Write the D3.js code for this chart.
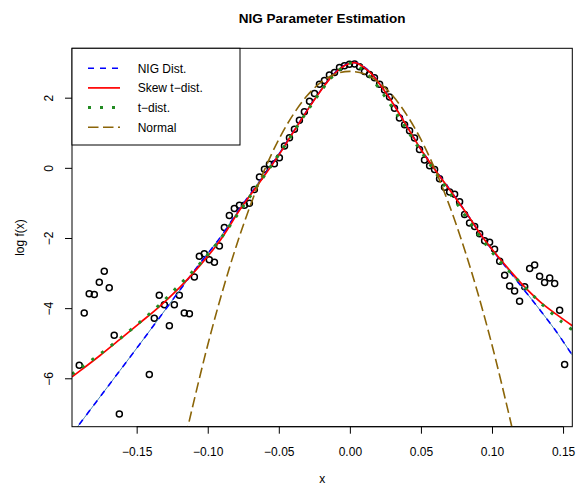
<!DOCTYPE html>
<html><head><meta charset="utf-8">
<script src="https://cdn.jsdelivr.net/npm/d3@7"></script>
<style>
body{margin:0;background:#fff}
svg{display:block}
text{font-family:"Liberation Sans",Arial,Helvetica,sans-serif;fill:#000}
</style>
</head><body>
<svg id="chart" width="581" height="486"></svg>
<script>
// ---------- data ----------
const xTicks = [-0.15, -0.10, -0.05, 0.00, 0.05, 0.10, 0.15];
const yTicks = [-6, -4, -2, 0, 2];

const titleText = "NIG Parameter Estimation";
const xLabel = "x";
const yLabel = "log f(x)";
const legendLabels = ["NIG Dist.", "Skew t\u2212dist.", "t\u2212dist.", "Normal"];

// observed log-density points (histogram bins)
const obsX = [-0.1904,-0.1869,-0.1834,-0.1798,-0.1763,-0.1728,-0.1693,-0.1658,-0.1622,
  -0.1411,-0.1376,-0.1341,-0.1305,-0.1270,-0.1235,-0.1200,-0.1165,-0.1129,-0.1094,-0.1059,-0.1024,-0.0989,-0.0953,-0.0918,-0.0883,-0.0848,-0.0813,-0.0777,-0.0742,-0.0707,-0.0672,-0.0636,-0.0601,-0.0566,-0.0531,-0.0496,-0.0460,-0.0425,-0.0390,-0.0355,-0.0320,-0.0284,-0.0249,-0.0214,-0.0179,-0.0144,-0.0108,-0.0073,-0.0038,-0.0003,
  0.0033,0.0068,0.0103,0.0138,0.0173,0.0209,0.0244,0.0279,0.0314,0.0349,0.0385,0.0420,0.0455,0.0490,0.0525,0.0561,0.0596,0.0631,0.0666,0.0702,0.0737,0.0772,0.0807,0.0842,0.0878,0.0913,0.0948,0.0983,0.1018,0.1054,0.1089,0.1124,0.1159,0.1194,0.1230,0.1265,0.1300,0.1335,0.1370,0.1406,0.1441,0.1476,0.1511];
const obsY = [-5.63,-4.14,-3.59,-3.61,-3.26,-2.95,-3.42,-4.77,-7.02,
  -5.89,-4.29,-3.63,-3.90,-4.50,-3.90,-3.63,-4.14,-4.16,-3.11,-2.52,-2.45,-2.62,-2.69,-2.23,-1.70,-1.36,-1.16,-1.07,-1.07,-1.01,-0.62,-0.26,-0.04,0.10,0.12,0.29,0.62,0.86,1.10,1.36,1.60,1.90,2.12,2.38,2.49,2.65,2.72,2.86,2.91,2.95,
  2.96,2.88,2.75,2.66,2.57,2.38,2.22,2.02,1.70,1.42,1.23,1.06,0.85,0.52,0.22,0.06,-0.05,-0.31,-0.55,-0.69,-0.75,-0.97,-1.33,-1.57,-1.67,-1.88,-2.08,-2.12,-2.32,-2.66,-3.06,-3.37,-3.51,-3.80,-3.39,-2.87,-2.77,-3.09,-3.27,-3.14,-3.30,-4.06,-5.61];

// fitted curves
const fitX = [-0.1955,-0.1899,-0.1758,-0.1618,-0.1477,-0.1336,-0.1195,-0.1054,-0.0913,-0.0773,-0.0632,-0.0491,-0.0420,-0.0350,-0.0280,-0.0210,-0.0139,-0.0069,0.0001,0.0036,0.0072,0.0142,0.0213,0.0283,0.0354,0.0424,0.0494,0.0586,0.0705,0.0825,0.0938,0.1057,0.1142,0.1226,0.1339,0.1451,0.1565];
const nigY = [-7.59,-7.29,-6.53,-5.78,-5.02,-4.25,-3.48,-2.72,-1.99,-1.15,-0.37,0.44,0.89,1.33,1.77,2.18,2.56,2.84,2.99,3.00,2.95,2.73,2.38,1.97,1.51,1.04,0.57,0.03,-0.63,-1.32,-2.00,-2.62,-3.05,-3.48,-4.06,-4.66,-5.34];
const skewtY = [-5.96,-5.79,-5.35,-4.89,-4.42,-3.94,-3.40,-2.78,-2.07,-1.19,-0.40,0.42,0.88,1.32,1.76,2.17,2.55,2.83,2.98,3.00,2.94,2.72,2.37,1.96,1.50,1.03,0.56,0.02,-0.64,-1.32,-2.00,-2.60,-3.00,-3.38,-3.82,-4.17,-4.50];

const tX = [-0.1955,-0.1899,-0.1758,-0.1618,-0.1477,-0.1336,-0.1195,-0.1054,-0.0913,-0.0773,-0.0632,-0.0491,-0.0420,-0.0350,-0.0280,-0.0210,-0.0139,-0.0069,0.0008,0.0085,0.0155,0.0226,0.0296,0.0366,0.0436,0.0507,0.0648,0.0789,0.0929,0.1070,0.1211,0.1352,0.1493,0.1565];
const tY = [-5.88,-5.72,-5.31,-4.87,-4.40,-3.89,-3.32,-2.73,-2.04,-1.23,-0.40,0.43,0.87,1.31,1.74,2.15,2.53,2.81,2.99,2.81,2.53,2.15,1.74,1.31,0.87,0.43,-0.40,-1.23,-2.04,-2.73,-3.32,-3.89,-4.40,-4.62];

const normX = [-0.12,-0.115,-0.11,-0.10,-0.09,-0.08,-0.07,-0.06,-0.05,-0.04,-0.03,-0.02,-0.01,0.00,0.01,0.02,0.03,0.04,0.05,0.06,0.07,0.08,0.09,0.10,0.11,0.115,0.12];
const normY = [-8.49,-7.57,-6.70,-5.05,-3.57,-2.24,-1.07,-0.05,0.81,1.51,2.06,2.45,2.68,2.75,2.68,2.45,2.06,1.51,0.81,-0.05,-1.07,-2.24,-3.57,-5.05,-6.70,-7.57,-8.49];

// ---------- drawing ----------
const svg = d3.select("#chart");
const P = {l:72, r:572.3, t:48.3, b:426.7};
const x = d3.scaleLinear().domain([-0.1955, 0.1565]).range([P.l, P.r]);
const y = d3.scaleLinear().domain([-7.38, 3.408]).range([P.b, P.t]);

svg.append("rect").attr("width",581).attr("height",486).attr("fill","#fff");

svg.append("clipPath").attr("id","clip")
  .append("rect").attr("x",P.l).attr("y",P.t).attr("width",P.r-P.l).attr("height",P.b-P.t);

const fmt = v => d3.format(".2f")(v).replace("-", "\u2212");

// x axis
const gx = svg.append("g").attr("transform",`translate(0,${P.b})`)
  .call(d3.axisBottom(x).tickValues(xTicks).tickSize(7).tickSizeOuter(0).tickFormat(fmt));
gx.select(".domain").remove();
gx.selectAll(".tick line").attr("stroke","#000").attr("stroke-width",1);
gx.selectAll(".tick text").attr("y",29.3).attr("dy",0).attr("font-size",12)
  .attr("font-family","Liberation Sans, Arial, sans-serif").attr("fill","#000");
gx.append("line").attr("x1",x(xTicks[0])).attr("x2",x(xTicks[xTicks.length-1]))
  .attr("y1",0).attr("y2",0).attr("stroke","#000");

// y axis
const gy = svg.append("g").attr("transform",`translate(${P.l},0)`)
  .call(d3.axisLeft(y).tickValues(yTicks).tickSize(7).tickSizeOuter(0)
    .tickFormat(v => String(v).replace("-", "\u2212")));
gy.select(".domain").remove();
gy.selectAll(".tick line").attr("stroke","#000").attr("stroke-width",1);
gy.selectAll(".tick text").attr("x",0).attr("dy",0).attr("text-anchor","middle")
  .attr("transform","translate(-18.7,0) rotate(-90)")
  .attr("font-size",12).attr("font-family","Liberation Sans, Arial, sans-serif").attr("fill","#000");

// curves
const line = d3.line().x(d => x(d[0])).y(d => y(d[1])).curve(d3.curveCatmullRom.alpha(0.5));
const zip = (a, b) => a.map((v, i) => [v, b[i]]);
const g = svg.append("g").attr("clip-path","url(#clip)");

// points
g.selectAll("circle").data(zip(obsX, obsY)).enter().append("circle")
  .attr("cx", d => x(d[0])).attr("cy", d => y(d[1])).attr("r", 3)
  .attr("fill","none").attr("stroke","#000").attr("stroke-width",1.5);

g.append("path").attr("d", line(zip(fitX, nigY))).attr("fill","none")
  .attr("stroke","steelblue").attr("stroke-width",1);
g.append("path").attr("d", line(zip(fitX, nigY))).attr("fill","none")
  .attr("stroke","#0000ff").attr("stroke-width",1.6).attr("stroke-dasharray","6,6");
g.append("path").attr("d", line(zip(fitX, skewtY))).attr("fill","none")
  .attr("stroke","#ff0000").attr("stroke-width",1.7);
g.append("path").attr("d", line(zip(tX, tY))).attr("fill","none")
  .attr("stroke","#228B22").attr("stroke-width",3).attr("stroke-dasharray","3,9");
g.append("path").attr("d", line(zip(normX, normY))).attr("fill","none")
  .attr("stroke","#8B6508").attr("stroke-width",1.6).attr("stroke-dasharray","10.5,4.5");

// frame
svg.append("rect").attr("x",P.l).attr("y",P.t).attr("width",P.r-P.l).attr("height",P.b-P.t)
  .attr("fill","none").attr("stroke","#000").attr("stroke-width",1);

// legend
const legStyles = [
  {c:"#0000ff", w:1.6, d:"6,6"},
  {c:"#ff0000", w:1.7, d:null},
  {c:"#228B22", w:3, d:"3,9"},
  {c:"#8B6508", w:1.6, d:"10.5,4.5"}
];
const lg = svg.append("g");
lg.append("rect").attr("x",P.l).attr("y",P.t).attr("width",240-P.l).attr("height",145-P.t)
  .attr("fill","#fff").attr("stroke","#000").attr("stroke-width",1);
const legBase = [72.7, 92.4, 112.0, 131.7];
legendLabels.forEach((lab, i) => {
  const s = legStyles[i];
  const ln = lg.append("line").attr("x1",88).attr("x2",120)
    .attr("y1",legBase[i]-4.5).attr("y2",legBase[i]-4.5)
    .attr("stroke",s.c).attr("stroke-width",s.w);
  if (s.d) ln.attr("stroke-dasharray", s.d);
  lg.append("text").attr("x",137.7).attr("y",legBase[i]).attr("font-size",12).text(lab);
});

// titles
svg.append("text").attr("x",(P.l+P.r)/2).attr("y",23).attr("text-anchor","middle")
  .attr("font-size",13.5).attr("font-weight","bold").text(titleText);
svg.append("text").attr("x",(P.l+P.r)/2).attr("y",483).attr("text-anchor","middle")
  .attr("font-size",12).text(xLabel);
svg.append("text").attr("transform",`translate(23.5,${(P.t+P.b)/2}) rotate(-90)`)
  .attr("text-anchor","middle").attr("font-size",12).text(yLabel);
</script>
</body></html>
